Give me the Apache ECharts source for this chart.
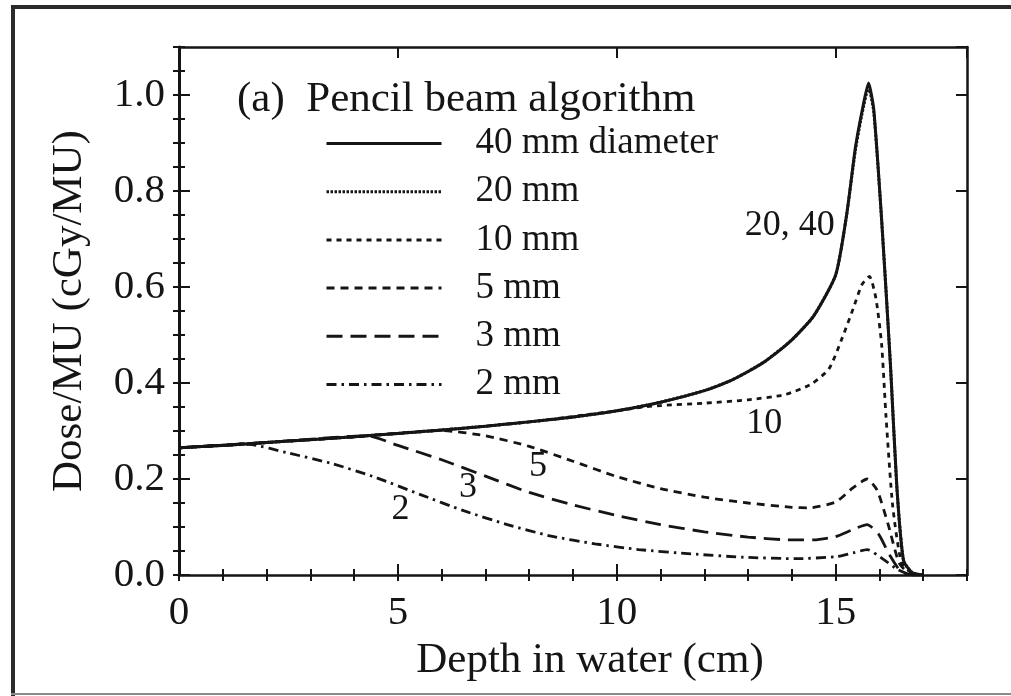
<!DOCTYPE html>
<html>
<head>
<meta charset="utf-8">
<script src="https://cdn.jsdelivr.net/npm/echarts@6/dist/echarts.min.js"></script>
<style>
  html, body { margin: 0; padding: 0; background: #fff; }
  #chart { width: 1011px; height: 696px; }
</style>
</head>
<body>
<div id="chart"></div>
<script>
// Depth-dose curves for narrow proton pencil beams, dose per MU vs depth (cm).
// Each series is a list of [depth, dose] pairs.
const dose40mm = [[0,0.265],[1,0.27],[2,0.276],[3,0.282],[4,0.288],[5,0.295],[6,0.302],[7,0.31],[8,0.319],[9,0.329],[10,0.342],[11,0.36],[12,0.384],[12.6,0.405],[13,0.424],[13.4,0.446],[14,0.49],[14.5,0.54],[15,0.625],[15.25,0.75],[15.45,0.89],[15.6,0.965],[15.75,1.025],[15.87,0.97],[16.05,0.74],[16.25,0.44],[16.4,0.18],[16.55,0.03],[16.75,0.005],[17,0]];
const dose20mm = [[0,0.265],[1,0.27],[2,0.276],[3,0.282],[4,0.288],[5,0.295],[6,0.302],[7,0.31],[8,0.319],[9,0.329],[10,0.342],[11,0.36],[12,0.384],[12.6,0.405],[13,0.424],[13.4,0.446],[14,0.49],[14.5,0.54],[15,0.625],[15.25,0.75],[15.45,0.885],[15.6,0.96],[15.75,1.015],[15.87,0.965],[16.05,0.74],[16.25,0.44],[16.4,0.18],[16.55,0.03],[16.75,0.005],[17,0]];
const dose10mm = [[0,0.265],[2,0.276],[4,0.288],[6,0.302],[8,0.319],[10,0.342],[10.6,0.35],[11,0.353],[12,0.358],[13,0.365],[13.85,0.376],[14.45,0.398],[14.85,0.43],[15.15,0.494],[15.4,0.555],[15.6,0.605],[15.77,0.622],[15.92,0.576],[16.05,0.48],[16.15,0.33],[16.3,0.146],[16.5,0.027],[16.75,0.003],[17,0]];
const dose5mm  = [[0,0.265],[2,0.276],[4,0.288],[6,0.301],[7,0.29],[8,0.268],[9,0.237],[10,0.205],[11,0.18],[12,0.162],[13,0.15],[14,0.141],[14.4,0.14],[15,0.152],[15.4,0.182],[15.72,0.2],[15.95,0.176],[16.2,0.105],[16.45,0.025],[16.7,0.002],[17,0]];
const dose3mm  = [[0,0.265],[2,0.276],[4.3,0.29],[5,0.27],[6,0.24],[7,0.206],[8,0.172],[9,0.146],[10,0.124],[11,0.105],[12,0.09],[13,0.079],[14,0.073],[14.5,0.073],[15,0.08],[15.4,0.095],[15.72,0.105],[15.98,0.085],[16.23,0.042],[16.5,0.006],[16.8,0],[17,0]];
const dose2mm  = [[0,0.265],[1,0.27],[1.6,0.272],[2.5,0.254],[3.5,0.232],[4.5,0.203],[5.5,0.168],[6.5,0.134],[7.5,0.105],[8.5,0.081],[9.5,0.065],[10.5,0.053],[11.7,0.044],[12.9,0.037],[14.1,0.034],[15,0.038],[15.4,0.046],[15.72,0.053],[16.1,0.032],[16.42,0.011],[16.7,0.001],[17,0]];

const seriesNames = ['40 mm diameter', '20 mm', '10 mm', '5 mm', '3 mm', '2 mm'];

// Curve annotations placed in data coordinates
const noteText  = ['20, 40', '10', '5', '3', '2'];
const noteDepth = [13.95, 13.37, 8.2, 6.6, 5.06];
const noteDose  = [0.727, 0.316, 0.225, 0.182, 0.137];

const SERIF = '"Liberation Serif", "Times New Roman", serif';
const INK = '#151515';

const chart = echarts.init(document.getElementById('chart'), null, { renderer: 'canvas' });

const tickLine = { color: INK, width: 2 };
const boxLine = { show: true, onZero: false, lineStyle: { color: INK, width: 2.5 } };
const noLine = { show: false };

function xAxisDef(position, interval, major) {
  return {
    type: 'value', position, min: 0, max: 18, interval,
    axisLine: major ? boxLine : noLine,
    axisTick: { show: true, inside: true, length: major ? 11 : 6, lineStyle: tickLine },
    axisLabel: { show: false },
    splitLine: { show: false }
  };
}
function yAxisDef(position, interval, major) {
  return {
    type: 'value', position, min: 0, max: 1.1, interval,
    axisLine: major ? Object.assign({}, boxLine, { lineStyle: { color: INK, width: position === 'left' ? 3 : 2.5 } }) : noLine,
    axisTick: { show: true, inside: true, length: major ? 11 : 6, lineStyle: tickLine },
    axisLabel: { show: false },
    splitLine: { show: false }
  };
}

const xMain = xAxisDef('bottom', 5, true);
xMain.axisLabel = {
  show: true, margin: 18, showMaxLabel: false,
  fontFamily: SERIF, fontSize: 41, color: INK,
  formatter: v => (v % 5 === 0 && v < 18 ? String(v) : '')
};
xMain.name = 'Depth in water (cm)';
xMain.nameLocation = 'middle';
xMain.nameGap = 42;
xMain.nameTextStyle = { fontFamily: SERIF, fontSize: 43, color: INK, padding: [0, 0, 0, 34] };

const yMain = yAxisDef('left', 0.2, true);
yMain.axisLabel = {
  show: true, margin: 14, showMaxLabel: false,
  fontFamily: SERIF, fontSize: 41, color: INK,
  formatter: v => (v <= 1.0001 ? v.toFixed(1) : '')
};
yMain.name = 'Dose/MU (cGy/MU)';
yMain.nameLocation = 'middle';
yMain.nameGap = 88;
yMain.nameTextStyle = { fontFamily: SERIF, fontSize: 43, color: INK };

function curve(name, data, width, dash, z) {
  return {
    type: 'line', name, data,
    xAxisIndex: 0, yAxisIndex: 0,
    symbol: 'none', showSymbol: false, smooth: 0.2,
    itemStyle: { color: INK },
    lineStyle: { color: INK, width, type: dash },
    z
  };
}

chart.setOption({
  animation: false,
  backgroundColor: '#fff',
  grid: { left: 179, top: 47, width: 788, height: 528, containLabel: false, outerBoundsMode: 'none' },
  title: {
    text: '(a)  Pencil beam algorithm',
    left: 237, top: 78, padding: 0,
    textStyle: { fontFamily: SERIF, fontSize: 43, fontWeight: 'normal', color: INK }
  },
  legend: {
    data: seriesNames,
    orient: 'vertical', left: 325, top: 125, padding: 0,
    itemWidth: 115, itemHeight: 14, itemGap: 11.2,
    selectedMode: false,
    itemStyle: { opacity: 0, borderWidth: 0 },
    lineStyle: { width: 3 },
    textStyle: { fontFamily: SERIF, fontSize: 37, lineHeight: 37, color: INK, padding: [0, 0, 0, 29] }
  },
  xAxis: [xMain, xAxisDef('bottom', 1, false), xAxisDef('top', 5, true), xAxisDef('top', 1, false)],
  yAxis: [yMain, yAxisDef('left', 0.05, false), yAxisDef('right', 0.2, true), yAxisDef('right', 0.05, false)],
  series: [
    curve('2 mm', dose2mm, 2.8, [10, 5, 2.5, 5], 2),
    curve('3 mm', dose3mm, 2.8, [16, 8], 2),
    curve('5 mm', dose5mm, 2.8, [8, 6], 2),
    curve('10 mm', dose10mm, 2.8, [5, 5], 2),
    curve('20 mm', dose20mm, 3, [2.5, 1.5], 3),
    curve('40 mm diameter', dose40mm, 3, 'solid', 4),
    {
      type: 'scatter', name: 'notes', silent: true,
      xAxisIndex: 0, yAxisIndex: 0,
      symbolSize: 0,
      itemStyle: { color: INK, opacity: 1 },
      data: noteText.map((t, i) => ({ name: t, value: [noteDepth[i], noteDose[i]] })),
      label: { show: true, position: 'inside', formatter: '{b}', fontFamily: SERIF, fontSize: 36, color: INK, opacity: 1 },
      z: 5
    }
  ],
  graphic: [
    { type: 'line', shape: { x1: 13, y1: 5, x2: 13, y2: 696 }, style: { stroke: '#2b2b2b', lineWidth: 4 }, silent: true },
    { type: 'line', shape: { x1: 11, y1: 7, x2: 1011, y2: 7 }, style: { stroke: '#2b2b2b', lineWidth: 4 }, silent: true },
    { type: 'line', shape: { x1: 11, y1: 694, x2: 1011, y2: 694 }, style: { stroke: '#8a8a8a', lineWidth: 2 }, silent: true }
  ]
});
</script>
</body>
</html>
